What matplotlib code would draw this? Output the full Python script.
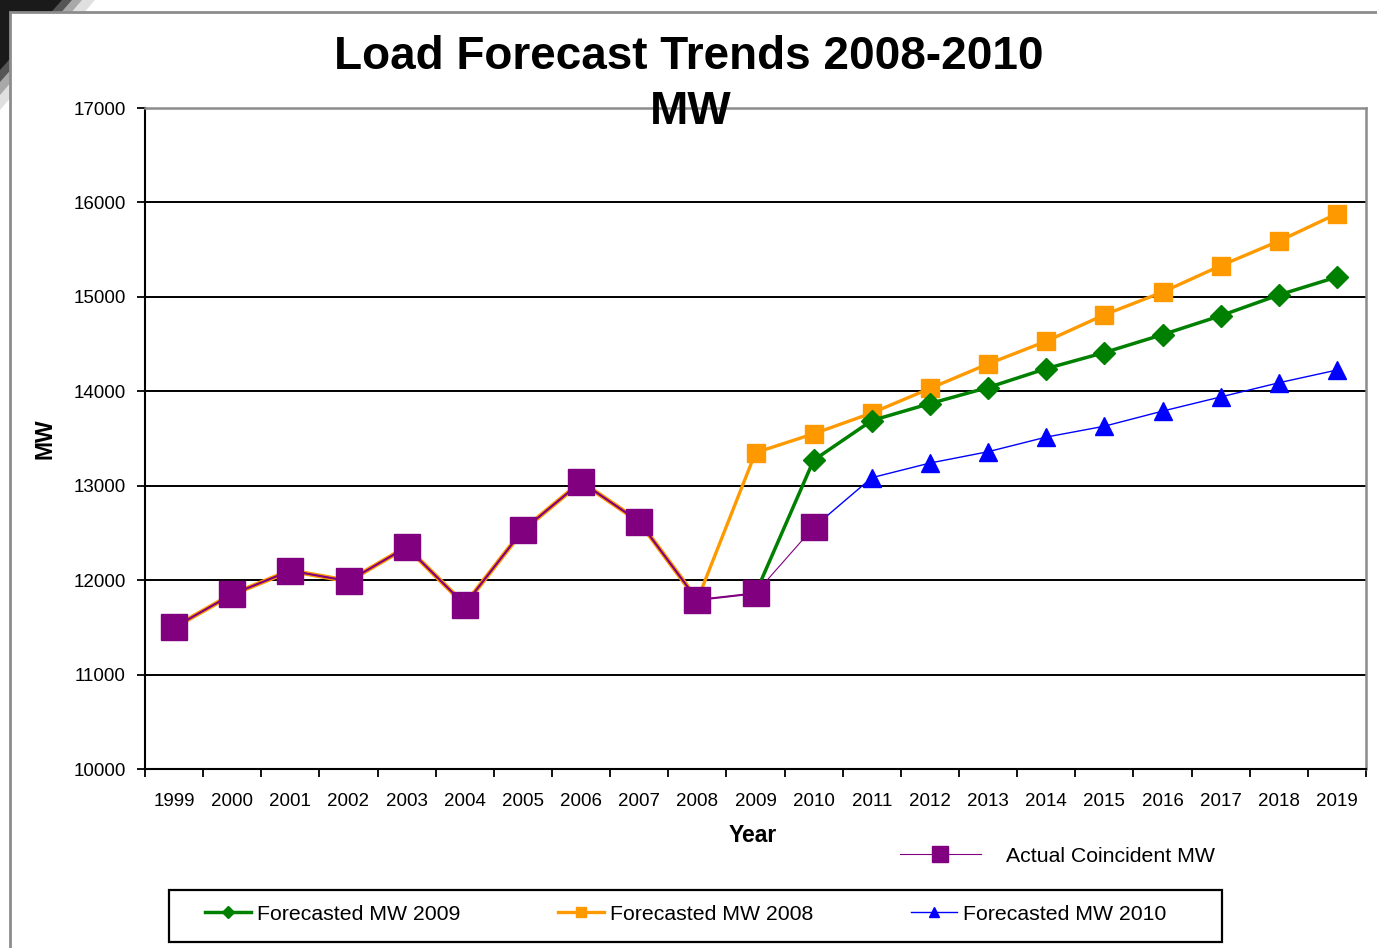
import numpy as np
import matplotlib
matplotlib.use("Agg")
from matplotlib import pyplot as plt
from matplotlib.patches import Polygon, Rectangle

plt.rcParams["font.family"] = ["Liberation Sans", "DejaVu Sans"]

# ============================================================
# Dados
# ============================================================

years = np.arange(1999, 2020)
year_labels = [str(y) for y in years]

# Carga real coincidente, 1999-2010
actual = [11500, 11850, 12100, 11990, 12350, 11740, 12530, 13040, 12620, 11790,
          11860, 12560]

# Previsão 2008: segue o histórico até 2008, depois projeta 2009-2019
fc2008 = [11500, 11850, 12100, 11990, 12350, 11740, 12530, 13040, 12620, 11790,
          13350, 13550, 13770, 14030, 14290, 14530, 14810, 15050, 15330, 15590,
          15880]

# Previsão 2009: parte de 2009
fc2009 = [11860, 13270, 13690, 13870, 14040, 14240, 14410, 14600, 14800, 15020,
          15210]

# Previsão 2010: parte de 2010
fc2010 = [12560, 13085, 13240, 13360, 13515, 13630, 13790, 13940, 14090, 14225]

y_ticks = np.arange(10000, 17001, 1000)

# ============================================================
# Figura
# ============================================================

W, H = 1377, 948


def fx(px):
    return px / W


def fy(py):
    return 1 - py / H


fig = plt.figure(figsize=(W / 100, H / 100), dpi=100)

# sombra no canto superior esquerdo + moldura cinza
for pts, cor in [(((0, 0), (95, 0), (0, 110)), "#e0e0e0"),
                 (((0, 0), (82, 0), (0, 95)), "#a8a8a8"),
                 (((0, 0), (72, 0), (0, 82)), "#555555"),
                 (((0, 0), (62, 0), (0, 70)), "#1a1a1a")]:
    fig.add_artist(Polygon([(fx(a), fy(b)) for a, b in pts], closed=True,
                           facecolor=cor, edgecolor="none",
                           transform=fig.transFigure, zorder=-3))

fig.add_artist(Rectangle((fx(10), -0.02), 1.0, fy(12) + 0.02,
                         facecolor="white", edgecolor="#8c8c8c", lw=2,
                         transform=fig.transFigure, zorder=-2))

ax = fig.add_axes([fx(145), fy(769), fx(1366) - fx(145), fy(108) - fy(769)])
ax.set_facecolor("white")

orange, = ax.plot(years, fc2008, color="#FF9900", lw=2.4, marker="s", ms=13,
                  mec="#FF9900", zorder=2, label="Forecasted MW 2008")
ax.plot(years[:10], fc2008[:10], color="#FF9900", lw=3.4, zorder=2)
green, = ax.plot(years[10:], fc2009, color="#008000", lw=2.5, marker="D",
                 ms=11, mec="#008000", zorder=3, label="Forecasted MW 2009")
blue, = ax.plot(years[11:], fc2010, color="#0000FF", lw=1.0, marker="^",
                ms=13, mec="#0000FF", zorder=3, label="Forecasted MW 2010")
ax.plot(years[:11], actual[:11], color="#800080", lw=1.5, zorder=4)
act, = ax.plot(years[:12], actual, color="#800080", lw=0.8, marker="s", ms=19,
               mec="#800080", zorder=5, label="Actual Coincident MW")

ax.set_xlim(1998.5, 2019.5)
ax.set_ylim(10000, 17000)
ax.set_xticks(years)
ax.set_xticklabels(year_labels)
ax.set_xticks(np.arange(1998.5, 2020), minor=True)
ax.set_yticks(y_ticks)

ax.tick_params(axis="x", which="major", length=0, pad=17, labelsize=13.5)
ax.tick_params(axis="x", which="minor", length=6, width=1.3, direction="out")
ax.tick_params(axis="y", length=6, width=1.3, direction="out", pad=8,
               labelsize=13.5)

ax.grid(axis="y", color="black", lw=1.4)
ax.yaxis.get_major_ticks()[-1].gridline.set_visible(False)

for lado in ["left", "bottom"]:
    ax.spines[lado].set_color("black")
    ax.spines[lado].set_linewidth(1.5)
for lado in ["top", "right"]:
    ax.spines[lado].set_color("#8c8c8c")
    ax.spines[lado].set_linewidth(1.8)

# textos
fig.text(fx(689), fy(57), "Load Forecast Trends 2008-2010", fontsize=33,
         fontweight="bold", ha="center", va="center")
fig.text(fx(691), fy(112), "MW", fontsize=33, fontweight="bold",
         ha="center", va="center")
fig.text(fx(45), fy(439), "MW", fontsize=16.5, fontweight="bold",
         rotation=90, ha="center", va="center")
fig.text(fx(753), fy(836), "Year", fontsize=16.5, fontweight="bold",
         ha="center", va="center")

# legendas
fig.add_artist(Rectangle((fx(169), fy(942)), fx(1222) - fx(169),
                         fy(890) - fy(942), facecolor="white",
                         edgecolor="black", lw=1.6,
                         transform=fig.transFigure, zorder=1))

fig.legend(handles=[green, orange, blue], loc="center left",
           bbox_to_anchor=(fx(205), fy(914)), ncol=3, frameon=False,
           fontsize=15.3, handlelength=2.15, handletextpad=0.3,
           columnspacing=4.6, borderpad=0, borderaxespad=0, markerscale=0.6)
fig.legend(handles=[act], loc="center left",
           bbox_to_anchor=(fx(900), fy(856)), frameon=False, fontsize=15.3,
           handlelength=3.8, handletextpad=1.2, borderpad=0,
           borderaxespad=0, markerscale=0.6)

fig.savefig("out.png", dpi=100)
plt.close(fig)
